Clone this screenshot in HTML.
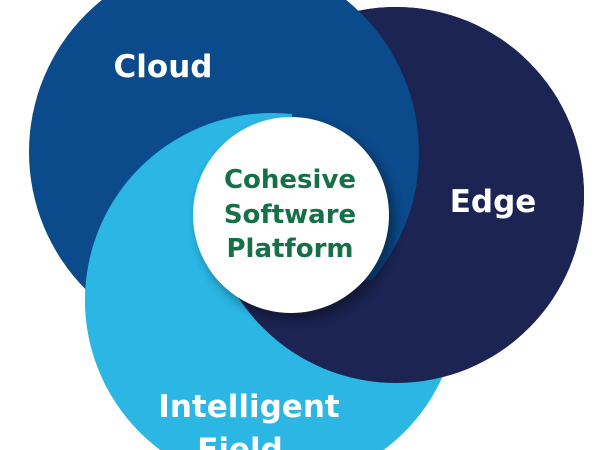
<!DOCTYPE html>
<html><head><meta charset="utf-8"><style>
html,body{margin:0;padding:0;background:#fff;width:600px;height:450px;overflow:hidden}
text{font-family:"DejaVu Sans","Liberation Sans",sans-serif;font-weight:bold}
</style></head><body>
<svg width="600" height="450" viewBox="0 0 600 450" xmlns="http://www.w3.org/2000/svg">
<defs>
<clipPath id="top"><rect x="0" y="0" width="600" height="280"/></clipPath>
<mask id="m" maskUnits="userSpaceOnUse" x="0" y="0" width="600" height="450">
<rect width="600" height="450" fill="#fff"/>
<circle cx="224" cy="152" r="195" fill="#000" clip-path="url(#top)"/>
</mask>
<clipPath id="left"><rect x="0" y="0" width="292" height="450"/></clipPath>
<filter id="sh" x="-20%" y="-20%" width="140%" height="140%"><feGaussianBlur stdDeviation="5"/></filter>
</defs>
<circle cx="396" cy="195" r="188" fill="#1b2452"/>
<circle cx="272" cy="300" r="187" fill="#2bb6e4"/>
<circle cx="224" cy="152" r="195" fill="#0b4a8b"/>
<circle cx="272" cy="300" r="187" fill="#2bb6e4" clip-path="url(#left)"/>
<circle cx="396" cy="195" r="188" fill="#1b2452" mask="url(#m)"/>
<circle cx="296" cy="221" r="99" fill="#000" opacity="0.35" filter="url(#sh)"/>
<circle cx="291" cy="215" r="98" fill="#fff"/>
<g fill="#fff" font-size="31" text-anchor="middle">
<text x="163" y="77">Cloud</text>
<text x="493" y="212">Edge</text>
<text x="249" y="417">Intelligent</text>
<text x="240" y="460">Field</text>
</g>
<g fill="#157048" font-size="26" text-anchor="middle">
<text x="290" y="188">Cohesive</text>
<text x="290" y="223">Software</text>
<text x="290" y="257">Platform</text>
</g>
</svg>
</body></html>
